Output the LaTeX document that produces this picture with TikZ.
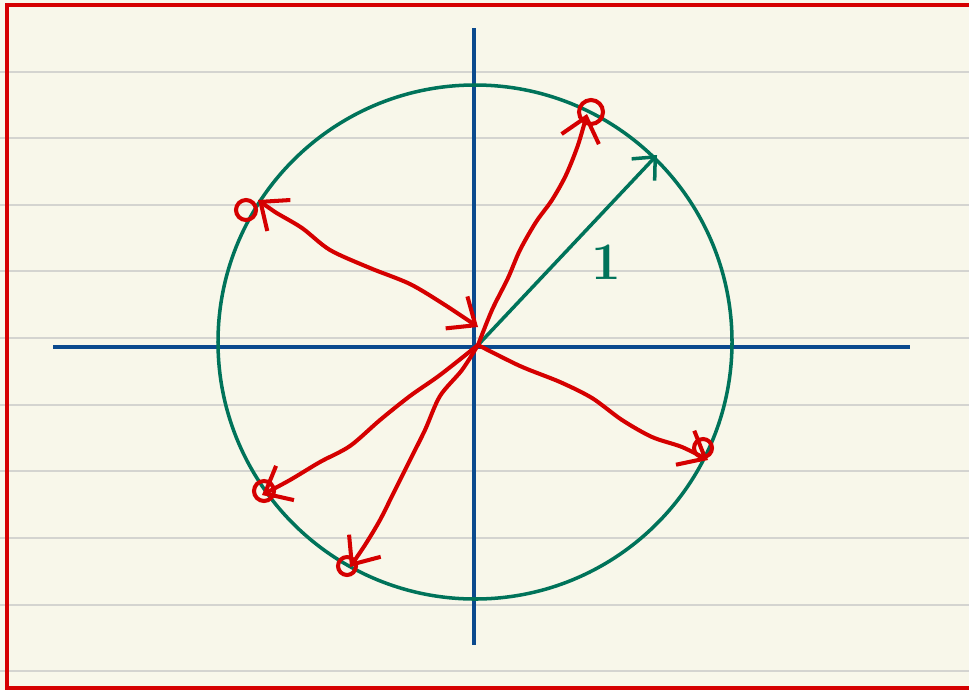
\documentclass[tikz,border=0pt]{standalone}
\usepackage{amsmath, amssymb}
\usepackage{tikz}
\usetikzlibrary{arrows.meta}

\definecolor{paper}{HTML}{F8F7EA}
\definecolor{rule}{HTML}{D4D4D0}
\definecolor{penred}{HTML}{D50000}
\definecolor{penblue}{HTML}{0B4A8E}
\definecolor{pengreen}{HTML}{00735A}

\begin{document}
\begin{tikzpicture}[x=0.02cm, y=-0.02cm,
	axis/.style={penblue, line width=2pt},
	ring/.style={pengreen, line width=2pt},
	vec/.style={pengreen, line width=2pt, -{Straight Barb[length=10pt, width=18pt]}},
	root/.style={penred, line width=2.3pt, line cap=round, line join=round, -{Straight Barb[length=13pt, width=22pt]}},
	knot/.style={penred, line width=2.3pt}]
	% paper
	\fill[paper] (0,0) rectangle (969,690);
	\useasboundingbox (0,0) rectangle (969,690);
	\foreach \y in {72,138,205,271,338,405,471,538,605,671}
		\draw[rule, line width=0.8pt] (0,\y) -- (969,\y);
	\draw[penred, line width=2.2pt] (990,5) -- (7,5) -- (7,688) -- (990,688);

	% axes and unit circle
	\coordinate (O) at (475,342);
	\coordinate (xl) at (53,347);
	\coordinate (xr) at (910,347);
	\coordinate (yt) at (474,28);
	\coordinate (yb) at (474,645);
	\draw[axis] (xl) -- (xr);
	\draw[axis] (yt) -- (yb);
	\draw[ring] (O) circle (257);

	% radius
	\coordinate (C) at (478,345);
	\coordinate (R) at (657,155);
	\draw[vec] (C) -- (R);
	\node[pengreen, font=\fontsize{30}{30}\selectfont\bfseries] (one) at (606,262) {1};

	% roots
	\coordinate (P1) at (587,114);
	\coordinate (P2) at (258,200);
	\coordinate (P3) at (708,460);
	\coordinate (P4) at (262,495);
	\coordinate (P5) at (350,567);

	\draw[root] plot[smooth] coordinates {(C) (492,310) (508,278) (520,250) (536,222) (552,200) (566,175) (578,145) (P1)};
	\draw[root, {Straight Barb[length=13pt, width=22pt]}-{Straight Barb[length=13pt, width=22pt]}] plot[smooth] coordinates {(P2) (275,212) (302,228) (330,250) (370,268) (410,284) (445,305) (478,327)};
	\draw[root] plot[smooth] coordinates {(C) (520,366) (560,382) (592,398) (622,420) (652,437) (682,447) (P3)};
	\draw[root] plot[smooth] coordinates {(C) (440,375) (410,396) (380,420) (350,446) (320,462) (290,480) (P4)};
	\draw[root] plot[smooth] coordinates {(C) (462,370) (440,396) (425,430) (410,460) (395,490) (380,520) (365,545) (P5)};

	% scribbles at the tips
	\draw[knot] (591,112) circle (12);
	\draw[knot] (703,448) circle (9);
	\draw[knot] (264,491) circle (10);
	\draw[knot] (347,566) circle (9);
	\draw[knot] (246,210) circle (10);
\end{tikzpicture}
\end{document}
